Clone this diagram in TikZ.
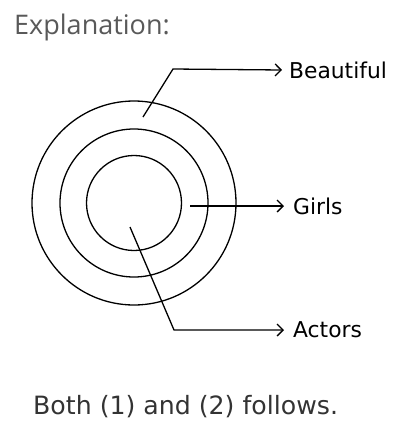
\documentclass[tikz,border=0pt]{standalone}
\usepackage{fontspec}
\setmainfont{DejaVu Sans}
\newfontfamily\headfont{Open Sans}
\usetikzlibrary{arrows.meta}
\definecolor{headgray}{HTML}{595959}
\definecolor{txtgray}{HTML}{333333}
\begin{document}
\begin{tikzpicture}[x=1pt,y=-1pt,
  ring/.style={draw, line width=1.3pt, circle, inner sep=0pt},
  lab/.style={anchor=west, inner sep=0pt, font=\fontsize{21.8}{24}\selectfont, text=black},
  link/.style={line width=1.3pt, -{Straight Barb[length=6pt,width=12pt,line width=1.3pt]}}]
\useasboundingbox (0,0) rectangle (401,421);
\node[anchor=west, inner sep=0pt, font=\headfont\fontsize{27}{30}\selectfont, text=headgray] (head) at (14,27) {Explanation:};
\node[ring, minimum size=204pt] (outer) at (134,203) {};
\node[ring, minimum size=148pt] (middle) at (134,203) {};
\node[ring, minimum size=95pt] (inner) at (134,203) {};
\coordinate (bstart) at (143,117);
\coordinate (bbend) at (173,69);
\coordinate (gstart) at (190,206);
\coordinate (astart) at (130,227);
\coordinate (abend) at (174,330);
\node[lab] (beautiful) at (289,70) {Beautiful};
\node[lab] (girls) at (293,206) {Girls};
\node[lab] (actors) at (293,330) {Actors};
\draw[link] (bstart) -- (bbend) -- ([xshift=-7pt]beautiful.west);
\draw[link] (gstart) -- ([xshift=-9pt]girls.west);
\draw[link] (astart) -- (abend) -- ([xshift=-9pt]actors.west);
\node[anchor=west, inner sep=0pt, font=\fontsize{25.2}{28}\selectfont, text=txtgray] (both) at (33,407) {Both (1) and (2) follows.};
\end{tikzpicture}
\end{document}
